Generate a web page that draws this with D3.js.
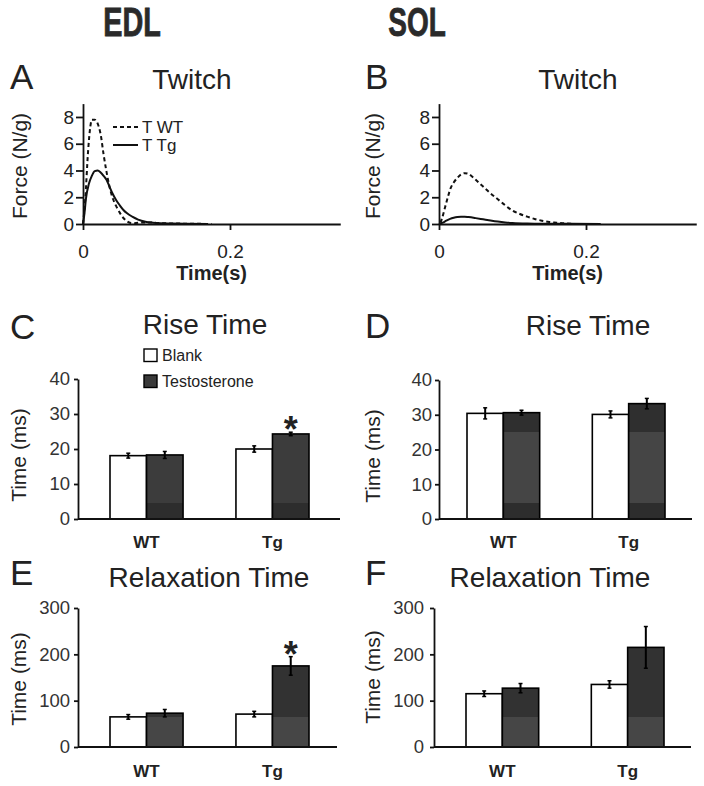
<!DOCTYPE html>
<html><head><meta charset="utf-8">
<script src="https://cdn.jsdelivr.net/npm/d3@7"></script>
<style>
body{margin:0;background:#fff}
text{font-family:"Liberation Sans",Arial,Helvetica,sans-serif;fill:#222}
</style>
</head><body>
<svg id="chart" width="704" height="786"></svg>
<script>
// ---------- DATA ----------
const columnTitles = ["EDL", "SOL"];

// Twitch traces (time in s, force in N/g)
const edlWtTime  = [0, 0.003, 0.007, 0.010, 0.012, 0.016, 0.020, 0.024, 0.028, 0.032, 0.036, 0.040, 0.045, 0.050, 0.055, 0.060, 0.065, 0.070, 0.080, 0.090, 0.100, 0.120, 0.150, 0.175];
const edlWtForce = [0, 1.8, 5.5, 7.3, 7.8, 7.8, 7.5, 6.7, 5.2, 3.9, 2.8, 2.0, 1.35, 0.85, 0.45, 0.2, 0.08, 0.06, 0.12, 0.12, 0.08, 0.04, 0.02, 0.0];
const edlTgTime  = [0, 0.002, 0.004, 0.008, 0.012, 0.016, 0.020, 0.024, 0.028, 0.032, 0.036, 0.040, 0.045, 0.050, 0.055, 0.060, 0.067, 0.075, 0.085, 0.095, 0.105, 0.120, 0.140, 0.170];
const edlTgForce = [0, 0.8, 1.9, 3.0, 3.6, 3.95, 4.0, 3.85, 3.6, 3.3, 2.8, 2.3, 1.8, 1.4, 1.05, 0.8, 0.55, 0.33, 0.17, 0.1, 0.06, 0.04, 0.02, 0.0];
const solWtTime  = [0.002, 0.004, 0.008, 0.012, 0.016, 0.020, 0.025, 0.030, 0.035, 0.040, 0.045, 0.050, 0.060, 0.070, 0.080, 0.090, 0.100, 0.110, 0.120, 0.130, 0.140, 0.150, 0.160, 0.170, 0.180];
const solWtForce = [0.1, 0.4, 1.2, 2.0, 2.7, 3.1, 3.45, 3.7, 3.8, 3.75, 3.55, 3.3, 2.8, 2.3, 1.85, 1.4, 1.0, 0.75, 0.55, 0.38, 0.25, 0.15, 0.1, 0.05, 0.02];
const solTgTime  = [0, 0.005, 0.010, 0.015, 0.020, 0.025, 0.030, 0.035, 0.040, 0.050, 0.060, 0.070, 0.080, 0.090, 0.100, 0.120, 0.150, 0.180, 0.220];
const solTgForce = [0, 0.1, 0.25, 0.38, 0.47, 0.53, 0.55, 0.55, 0.52, 0.44, 0.35, 0.26, 0.18, 0.12, 0.08, 0.04, 0.02, 0.01, 0.0];
const twitchLegend = ["T WT", "T Tg"];
const forceTicks = [0, 2, 4, 6, 8];
const timeTicks = [0, 0.2];

// Bar charts: [group][treatment]
const groups = ["WT", "Tg"];
const treatments = ["Blank", "Testosterone"];
const riseEDL     = [[18.1, 18.3], [20.0, 24.3]];
const riseEDLErr  = [[0.7, 1.0], [0.9, 0.5]];
const riseSOL     = [[30.4, 30.6], [30.1, 33.2]];
const riseSOLErr  = [[1.6, 0.7], [1.0, 1.5]];
const relaxEDL    = [[65, 73], [71, 175]];
const relaxEDLErr = [[5, 8], [6, 20]];
const relaxSOL    = [[115, 127], [135, 215]];
const relaxSOLErr = [[6, 10], [8, 45]];
const riseSig  = [[false, false], [false, true]];
const relaxSig = [[false, false], [false, true]];
const riseTicks = [0, 10, 20, 30, 40];
const relaxTicks = [0, 100, 200, 300];

// ---------- DRAW ----------
const svg = d3.select("#chart");
const FONT = '"Liberation Sans",Arial,Helvetica,sans-serif';

// column headers (condensed bold)
const hdr = [{x: 132, sx: 0.72}, {x: 417, sx: 0.70}];
columnTitles.forEach((t, i) => {
  svg.append("text").attr("transform", `translate(${hdr[i].x},36) scale(${hdr[i].sx},1)`)
    .attr("text-anchor", "middle").attr("font-size", 40).attr("font-weight", "bold")
    .attr("stroke", "#2a2a2a").attr("stroke-width", 0.8)
    .style("fill", "#2a2a2a").text(t);
});

function styleAxis(g, fs) {
  g.selectAll("path,line").attr("stroke", "#111").attr("stroke-width", 1.8);
  g.selectAll("text").attr("font-size", fs).attr("font-family", FONT).style("fill", "#222");
}

function panelText(letter, lx, ly, title, tx, ty) {
  svg.append("text").attr("x", lx).attr("y", ly).attr("font-size", 35).text(letter);
  svg.append("text").attr("x", tx).attr("y", ty).attr("text-anchor", "middle").attr("font-size", 28).text(title);
}

function yLabel(txt, bx, cy) {
  svg.append("text").attr("transform", `translate(${bx},${cy}) rotate(-90)`)
    .attr("text-anchor", "middle").attr("font-size", 21).text(txt);
}

function twitchPanel(cfg) {
  const x = d3.scaleLinear().domain([0, 0.35]).range([cfg.x0, cfg.x0 + 257.25]);
  const y = d3.scaleLinear().domain([0, 9]).range([224, 103.6]);
  const gy = svg.append("g").attr("transform", `translate(${cfg.x0},0)`)
    .call(d3.axisLeft(y).tickValues(forceTicks).tickSize(7).tickPadding(2).tickSizeOuter(0));
  styleAxis(gy, 19);
  const gx = svg.append("g").attr("transform", `translate(0,224)`)
    .call(d3.axisBottom(x).tickValues(timeTicks).tickSize(6).tickPadding(15).tickSizeOuter(0)
      .tickFormat(d => d === 0 ? "0" : d3.format(".1f")(d)));
  styleAxis(gx, 19);
  svg.append("text").attr("x", (cfg.x0 + cfg.x0 + 257.25) / 2).attr("y", 280)
    .attr("text-anchor", "middle").attr("font-size", 20).attr("font-weight", "bold").text("Time(s)");
  const line = d3.line().x(d => x(d[0])).y(d => y(d[1])).curve(d3.curveMonotoneX);
  const wt = cfg.wtT.map((t, i) => [t, cfg.wtF[i]]);
  const tg = cfg.tgT.map((t, i) => [t, cfg.tgF[i]]);
  svg.append("path").datum(tg).attr("d", line).attr("fill", "none")
    .attr("stroke", "#111").attr("stroke-width", 2);
  svg.append("path").datum(wt).attr("d", line).attr("fill", "none")
    .attr("stroke", "#111").attr("stroke-width", 2).attr("stroke-dasharray", "4,3");
  if (cfg.legend) {
    const L = [{dash: "4,3", y: 127}, {dash: null, y: 145}];
    L.forEach((l, i) => {
      svg.append("line").attr("x1", 113).attr("x2", 138).attr("y1", l.y).attr("y2", l.y)
        .attr("stroke", "#111").attr("stroke-width", 2).attr("stroke-dasharray", l.dash);
      svg.append("text").attr("x", 142).attr("y", l.y + 6).attr("font-size", 17).text(twitchLegend[i]);
    });
  }
}

twitchPanel({x0: 83, wtT: edlWtTime, wtF: edlWtForce, tgT: edlTgTime, tgF: edlTgForce, legend: true});
panelText("A", 10, 89, "Twitch", 192, 89);
yLabel("Force (N/g)", 27, 166);
twitchPanel({x0: 439, wtT: solWtTime, wtF: solWtForce, tgT: solTgTime, tgF: solTgForce, legend: false});
panelText("B", 365, 89, "Twitch", 578, 89);
yLabel("Force (N/g)", 380, 166);

let gradId = 0;
function barPanel(cfg) {
  const y = d3.scaleLinear().domain([0, cfg.yMax]).range([cfg.y0, cfg.yTop]);
  const x = d3.scaleBand().domain(groups).range([cfg.bandL, cfg.bandR]).paddingInner(0.42).paddingOuter(0);
  const xi = d3.scaleBand().domain(treatments).range([0, x.bandwidth()]);
  const id = "g" + (gradId++);
  const grad = svg.append("defs").append("linearGradient").attr("id", id)
    .attr("gradientUnits", "userSpaceOnUse").attr("x1", 0).attr("x2", 0)
    .attr("y1", y(0)).attr("y2", y(cfg.yMax));
  cfg.bands.forEach(b => {
    grad.append("stop").attr("offset", b[0] / cfg.yMax).attr("stop-color", b[2]);
    grad.append("stop").attr("offset", b[1] / cfg.yMax).attr("stop-color", b[2]);
  });
  const fills = ["#ffffff", `url(#${id})`];
  const data = [];
  groups.forEach((g, gi) => treatments.forEach((t, ti) => data.push({
    g, t, ti, v: cfg.values[gi][ti], e: cfg.errs[gi][ti], s: cfg.sig[gi][ti]
  })));
  svg.append("g").selectAll("rect").data(data).join("rect")
    .attr("x", d => x(d.g) + xi(d.t)).attr("width", xi.bandwidth())
    .attr("y", d => y(d.v)).attr("height", d => y(0) - y(d.v))
    .attr("fill", d => fills[d.ti]).attr("stroke", "#000").attr("stroke-width", 1.6);
  const eb = svg.append("g");
  data.forEach(d => {
    const cx = x(d.g) + xi(d.t) + xi.bandwidth() / 2;
    eb.append("line").attr("x1", cx).attr("x2", cx).attr("y1", y(d.v - d.e)).attr("y2", y(d.v + d.e))
      .attr("stroke", "#000").attr("stroke-width", 2);
    [d.v - d.e, d.v + d.e].forEach(v => eb.append("line").attr("x1", cx - 2).attr("x2", cx + 2)
      .attr("y1", y(v)).attr("y2", y(v)).attr("stroke", "#000").attr("stroke-width", 1.5));
    if (d.s) svg.append("text").attr("x", cx).attr("y", y(d.v + d.e) + 10).attr("text-anchor", "middle")
      .attr("font-size", 36).attr("font-weight", "bold").style("fill", "#222").text("*");
  });
  const gy = svg.append("g").attr("transform", `translate(${cfg.axisL},0)`)
    .call(d3.axisLeft(y).tickValues(cfg.ticks).tickSize(4).tickPadding(cfg.tickPad).tickSizeOuter(0));
  styleAxis(gy, 18.5);
  gy.selectAll("text").style("fill", "#333");
  svg.append("line").attr("x1", cfg.axisL).attr("x2", cfg.axisR).attr("y1", y(0)).attr("y2", y(0))
    .attr("stroke", "#111").attr("stroke-width", 1.8);
  groups.forEach(g => svg.append("text").attr("x", x(g) + x.bandwidth() / 2).attr("y", cfg.labelY)
    .attr("text-anchor", "middle").attr("font-size", 17).attr("font-weight", "bold").text(g));
  return {x, y};
}

const bandsRiseEDL = [[0, 4.5, "#2d2d2d"], [4.5, 40, "#3c3c3c"]];
const bandsRiseSOL = [[0, 4.5, "#2d2d2d"], [4.5, 25, "#454545"], [25, 40, "#2f2f2f"]];
const bandsRelax = [[0, 65, "#464646"], [65, 300, "#323232"]];

barPanel({values: riseEDL, errs: riseEDLErr, sig: riseSig, yMax: 40, ticks: riseTicks,
  y0: 519, yTop: 379, axisL: 78, axisR: 340, bandL: 110, bandR: 309, tickPad: 4, labelY: 548, bands: bandsRiseEDL});
panelText("C", 10, 339, "Rise Time", 205, 334);
yLabel("Time (ms)", 26, 455);
[["#ffffff", 349, 361], ["#3a3a3a", 375, 387]].forEach((l, i) => {
  svg.append("rect").attr("x", 144).attr("y", l[1]).attr("width", 13).attr("height", 12.5)
    .attr("fill", l[0]).attr("stroke", "#000").attr("stroke-width", 1.4);
  svg.append("text").attr("x", 162).attr("y", l[2]).attr("font-size", 16).text(treatments[i]);
});

barPanel({values: riseSOL, errs: riseSOLErr, sig: [[false,false],[false,false]], yMax: 40, ticks: riseTicks,
  y0: 519, yTop: 380, axisL: 439, axisR: 692, bandL: 467, bandR: 665, tickPad: 3, labelY: 548, bands: bandsRiseSOL});
panelText("D", 365, 338, "Rise Time", 588, 335);
yLabel("Time (ms)", 380, 456);

barPanel({values: relaxEDL, errs: relaxEDLErr, sig: relaxSig, yMax: 300, ticks: relaxTicks,
  y0: 747, yTop: 608, axisL: 78, axisR: 337, bandL: 110, bandR: 309, tickPad: 4, labelY: 777, bands: bandsRelax});
panelText("E", 10, 585, "Relaxation Time", 209, 587);
yLabel("Time (ms)", 26, 679);

barPanel({values: relaxSOL, errs: relaxSOLErr, sig: [[false,false],[false,false]], yMax: 300, ticks: relaxTicks,
  y0: 747, yTop: 608, axisL: 434, axisR: 691, bandL: 466, bandR: 664, tickPad: 6, labelY: 777, bands: bandsRelax});
panelText("F", 365, 585, "Relaxation Time", 550, 587);
yLabel("Time (ms)", 380, 677);
</script>
</body></html>
